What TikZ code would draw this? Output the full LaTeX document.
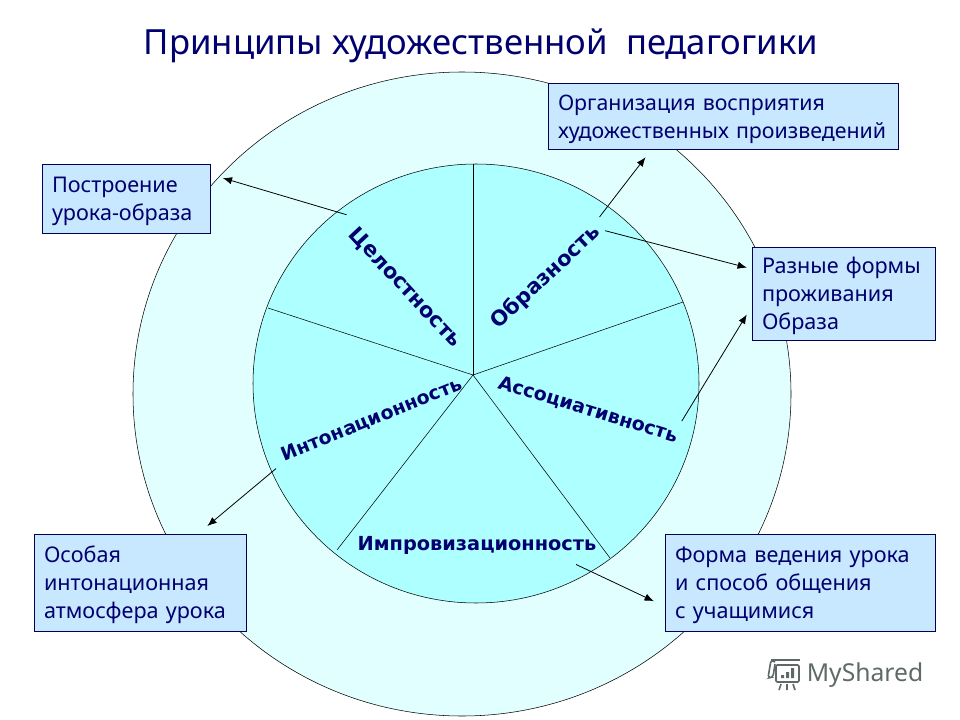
\documentclass[tikz,border=0pt]{standalone}
\usepackage{fontspec}
\usetikzlibrary{arrows.meta}
\setmainfont{Noto Sans}
\newfontfamily\labelfont{DejaVu Sans Bold}
\definecolor{outerfill}{HTML}{E2FFFF}
\definecolor{innerfill}{HTML}{AEFFFF}
\definecolor{boxfill}{HTML}{C8E8FF}
\definecolor{navytext}{HTML}{00006E}
\definecolor{logogray}{HTML}{5E6A66}

\begin{document}
\begin{tikzpicture}[x=0.75pt, y=-0.75pt,
        infobox/.style={rectangle, draw=navytext!80!black, fill=boxfill, text=navytext, align=left, inner xsep=7.5pt, inner ysep=0pt, font=\fontsize{16.2}{21}\selectfont, execute at begin node={\rule{0pt}{16pt}}},
        principle/.style={text=navytext, font=\labelfont\fontsize{#1}{#1}\selectfont},
        pointer/.style={-{Latex[length=7pt, width=5.5pt]}, black, line width=0.6pt}]
        \useasboundingbox (0,0) rectangle (960,720);

        % Circles
        \draw[black, fill=outerfill] (462,394) ellipse [x radius=329, y radius=322];
        \draw[black, fill=innerfill] (476,383.5) ellipse [x radius=223, y radius=219.5];

        % Spokes
        \coordinate (hub) at (473,375);
        \draw (hub) -- (473,164);
        \draw (hub) -- (683,302);
        \draw (hub) -- (610,558);
        \draw (hub) -- (337,550);
        \draw (hub) -- (268,308);

        % Title
        \node (title) at (481,46) [text=navytext, font=\fontsize{26}{26}\selectfont] {Принципы художественной\ \ педагогики};

        % Principles
        \node (celost) at (405,288) [principle=15.7, rotate=-47] {Целостность};
        \node (obraz) at (546,277) [principle=15.7, rotate=43] {Образность};
        \node (assoc) at (588,410) [principle=14.2, rotate=-17] {Ассоциативность};
        \node (inton) at (372,420) [principle=14.2, rotate=22] {Интонационность};
        \node (improv) at (477,545) [principle=14.5] {Импровизационность};

        % Boxes
        \node (org) at (723,116) [infobox, font=\fontsize{16}{21}\selectfont, minimum height=49.5pt, text width=247.5pt] {Организация восприятия\\художественных произведений};
        \node (postr) at (126,198.5) [infobox, minimum height=51.75pt, text width=111pt] {Построение\\урока-образа};
        \node (forms) at (843.5,293.5) [infobox, minimum height=69.75pt, text width=122.25pt] {Разные формы\\проживания\\Образа};
        \node (atmos) at (140,582.5) [infobox, minimum height=72.75pt, text width=144pt] {Особая\\интонационная\\атмосфера урока};
        \node (manner) at (800,582.5) [infobox, minimum height=72.75pt, text width=187.5pt] {Форма ведения урока\\и способ общения\\с учащимися};

        % Arrows
        \draw[pointer, shorten <=10pt, shorten >=9.75pt] (celost.north west) -- (postr.16);
        \draw[pointer, shorten <=4pt, shorten >=7.5pt] (obraz.5) -- (org.205);
        \draw[pointer, shorten >=3.75pt] (obraz.-5) -- (forms.165);
        \draw[pointer, shorten <=3pt, shorten >=7.1pt] (assoc.8) -- (forms.188);
        \draw[pointer, shorten <=5pt, shorten >=9pt] (inton.184) -- (atmos.40);
        \draw[pointer, shorten <=10pt, shorten >=9pt] (improv.-9.3) -- (manner.190);

        % Logo
        \node (logo) at (865,675) [text=logogray, font=\fontsize{18.5}{18.5}\selectfont] {MyShared};
        \draw[logogray, line width=1.2pt, rounded corners=1pt] (776,665) rectangle (799,682);
        \draw[logogray, line width=1.2pt, rounded corners=2pt] (775,662) -- (771,660) -- (768,678) -- (773,677) -- (775,664);
        \draw[logogray, line width=1.6pt] (771,660) -- (800,660);
        \fill[logogray] (781,675) rectangle (784,678) (786,672) rectangle (789,678) (791,668) rectangle (794,678);
        \draw[logogray, line width=1.2pt] (781,684) -- (779,690) (787,684) -- (787,690) (793,684) -- (795,690);
    \end{tikzpicture}
\end{document}
